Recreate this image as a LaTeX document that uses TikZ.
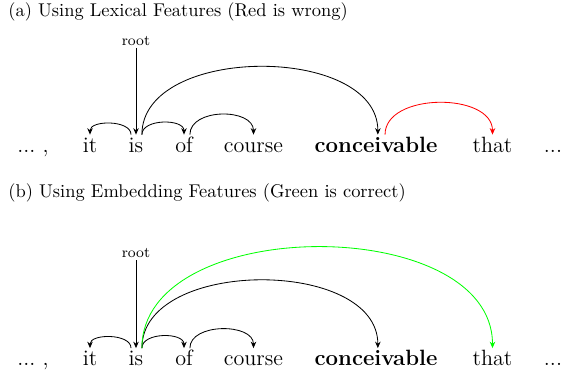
\documentclass[tikz,border=0pt]{standalone}
\usepackage{tikz}
\usetikzlibrary{arrows.meta}
\newcommand{\ArrTip}{Stealth[length=3.5,width=3]}
\newcommand{\wdots}{...}
\tikzset{word/.style={anchor=base,font=\large,text height=8pt,text depth=2pt,inner xsep=1pt,inner ysep=1.5pt}}
\tikzset{dep/.style={-{\ArrTip},line width=.45pt},caption/.style={anchor=base west,inner sep=0pt},rootlbl/.style={anchor=base,font=\footnotesize,inner sep=1pt}}

\begin{document}
\begin{tikzpicture}[x=.542pt,y=.542pt]
\useasboundingbox(0,0)rectangle(563,375);
\foreach\p/\y in {a/222.5,b/9}{\foreach\x/\n/\t in {33/dl/{\wdots\ ,},90/it/it,136/is/is,184/of/of,253.5/co/course,376/cv/\textbf{conceivable},492.5/th/that,553/dr/\wdots}\node[word](\p\n)at(\x,\y){\t};}
\node[caption](capa)at(8,358){(a) Using Lexical Features (Red is wrong)};
\node[caption](capb)at(8,177){(b) Using Embedding Features (Green is correct)};
\node[rootlbl](aroot)at(136,329.5){root};\node[rootlbl](broot)at(136,117){root};
\draw[dep](aroot.south)--(ais.north);\draw[dep](broot.south)--(bis.north);
\draw[dep]([xshift=-2.7pt]ais.north)to[out=90,in=90,distance=8pt](ait.north);
\draw[dep]([xshift=3.2pt]ais.north)to[out=90,in=90,distance=8.7pt](aof.north);
\draw[dep]([xshift=3.2pt]aof.north)to[out=90,in=90,distance=14.5pt](aco.north);
\draw[dep]([xshift=3.2pt]ais.north)to[out=90,in=90,distance=49pt]([xshift=1pt]acv.north);
\draw[dep,red]([xshift=4.9pt]acv.north)to[out=90,in=90,distance=23pt](ath.north);
\draw[dep]([xshift=-2.7pt]bis.north)to[out=90,in=90,distance=8pt](bit.north);
\draw[dep]([xshift=3.2pt]bis.north)to[out=90,in=90,distance=8.7pt](bof.north);
\draw[dep]([xshift=3.2pt]bof.north)to[out=90,in=90,distance=13.7pt](bco.north);
\draw[dep]([xshift=3.2pt]bis.north)to[out=90,in=90,distance=49pt]([xshift=1pt]bcv.north);
\draw[dep,green]([xshift=3.2pt]bis.north)to[out=90,in=90,distance=73pt](bth.north);
\end{tikzpicture}
\end{document}
